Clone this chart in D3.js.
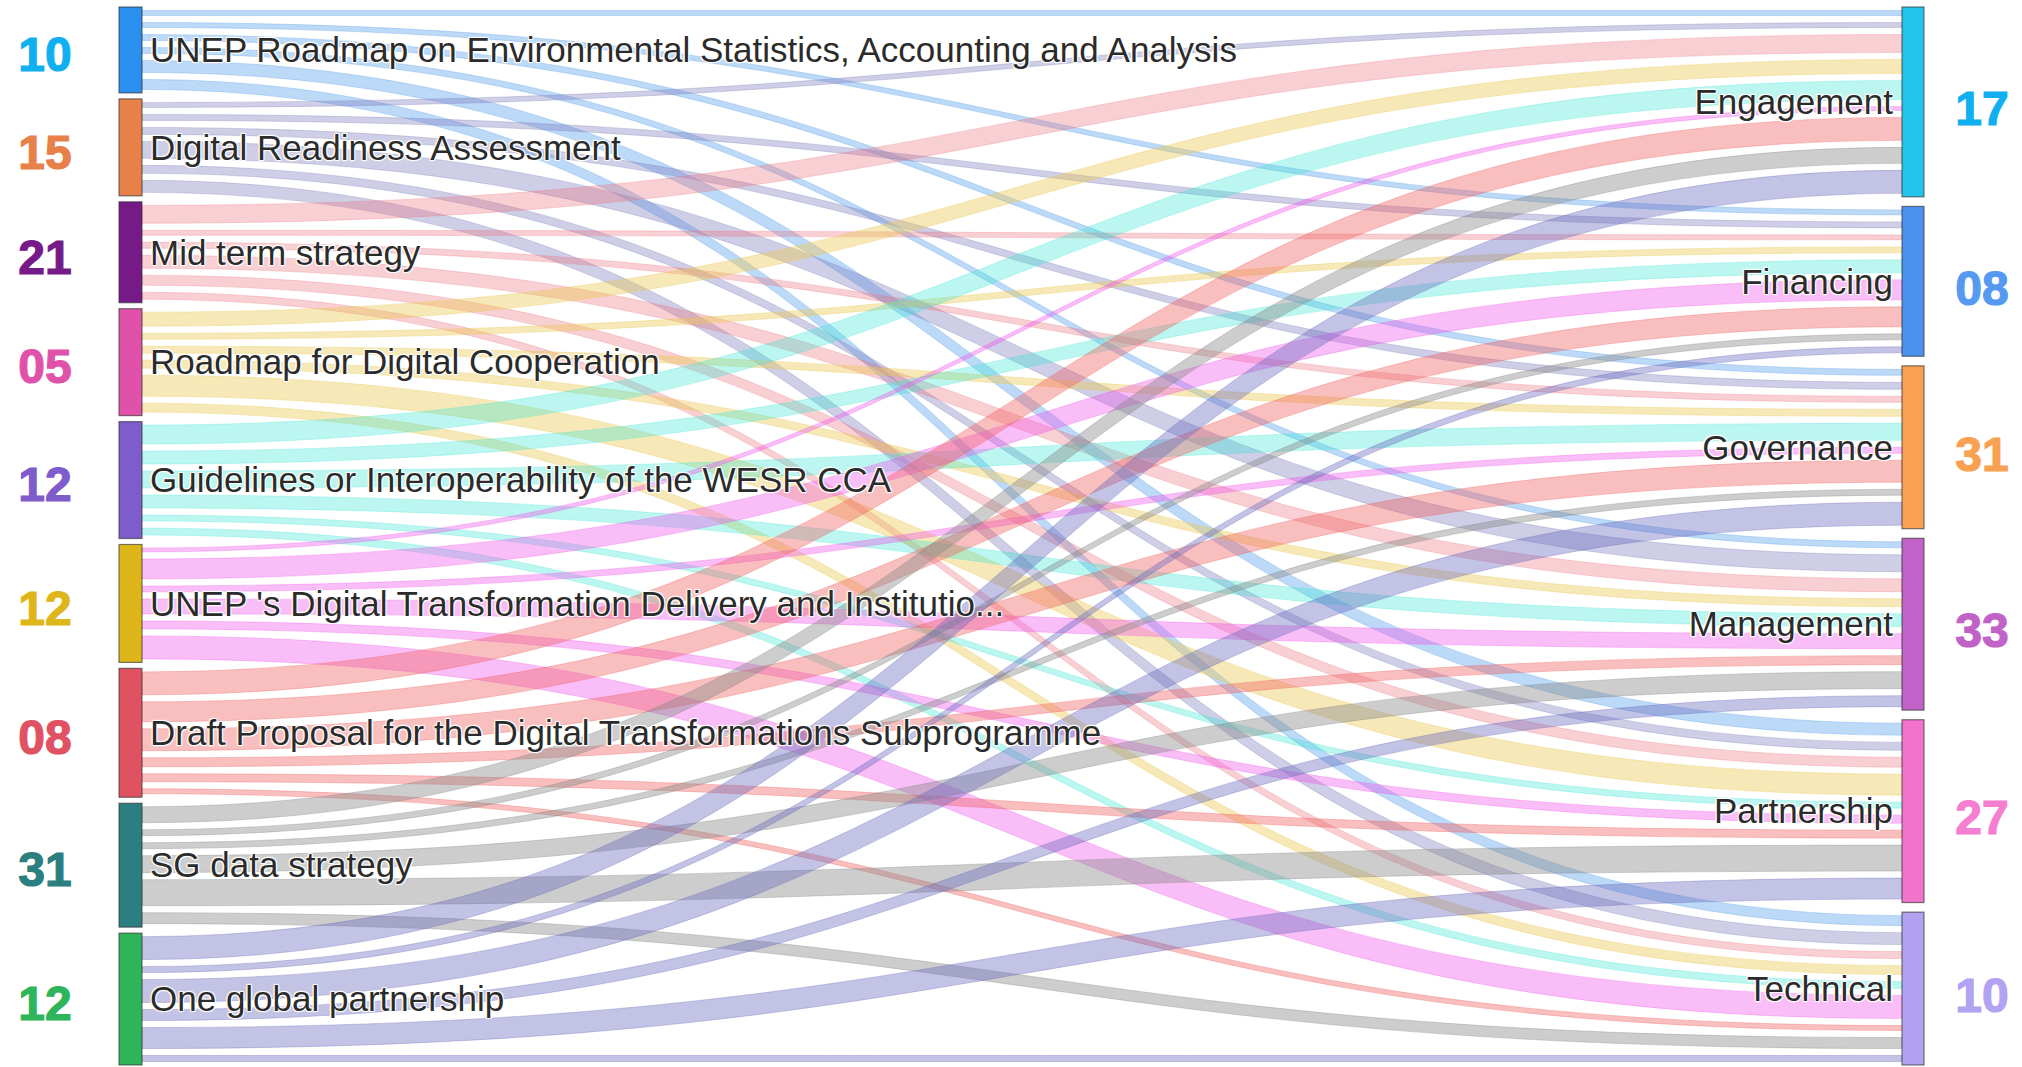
<!DOCTYPE html>
<html>
<head>
<meta charset="utf-8">
<script src="https://cdn.jsdelivr.net/npm/d3@7"></script>
<style>
  html, body { margin: 0; padding: 0; background: #fff; }
  svg text { font-family: "Liberation Sans", Arial, sans-serif; }
  .node-label { fill: #2b2b2b; font-size: 35px;
    text-shadow: 1px 1px 1px #fff, -1px -1px 1px #fff, 1px -1px 1px #fff, -1px 1px 1px #fff; }
  .badge { font-size: 48px; font-weight: bold; stroke-width: 1.2px; }
</style>
</head>
<body>
<div id="chart"></div>
<script>

const sources = [
  "UNEP Roadmap on Environmental Statistics, Accounting and Analysis",
  "Digital Readiness Assessment",
  "Mid term strategy",
  "Roadmap for Digital Cooperation",
  "Guidelines or Interoperability of the WESR CCA",
  "UNEP 's Digital Transformation Delivery and Institutio...",
  "Draft Proposal for the Digital Transformations Subprogramme",
  "SG data strategy",
  "One global partnership"
];
const targets = ["Engagement", "Financing", "Governance", "Management", "Partnership", "Technical"];

// one row per source, one column per target
const flows = [
  [12, 12, 13, 13, 19, 17],
  [12, 13, 14, 24, 15, 19],
  [25, 12, 13, 20, 17, 14],
  [21, 13, 14, 15, 28, 16],
  [26, 20, 24, 20, 13, 14],
  [11, 27, 13, 22, 15, 30],
  [30, 27, 29, 16, 15, 12],
  [23, 13, 13, 24, 33, 18],
  [30, 13, 30, 18, 28, 13]
];

const sourceBadges = ["10", "15", "21", "05", "12", "12", "08", "31", "12"];
const targetBadges = ["17", "08", "31", "33", "27", "10"];

const sourceColors = ["#2b8ff0", "#e8804a", "#761a88", "#e052aa", "#7e5ccc", "#dfb61a", "#e05262", "#2b7f80", "#2eb55a"];
const badgeColorsLeft = ["#10b0f0", "#e8804a", "#761a88", "#e052aa", "#7e5ccc", "#dfb61a", "#e05262", "#2b7f80", "#2eb55a"];
const targetColors = ["#22c4ea", "#4a92f0", "#f8a152", "#c062c8", "#f272cc", "#b2a2f2"];
const badgeColorsRight = ["#10b0f0", "#559af0", "#f8a152", "#c062c8", "#f47fd0", "#b2a2f2"];
const linkColors = [
  "rgba(95,165,235,0.42)",
  "rgba(125,125,190,0.38)",
  "rgba(235,115,125,0.34)",
  "rgba(235,200,85,0.42)",
  "rgba(60,230,210,0.34)",
  "rgba(240,85,235,0.38)",
  "rgba(240,95,95,0.40)",
  "rgba(135,135,135,0.42)",
  "rgba(105,105,190,0.40)"
];

const W = 2022, H = 1067;
const yTop = 7, yBottom = 1065;
const pad = 6;
const leftX = 119, rightX = 1902, nodeW = 23;
const shrink = 3.5;

const total = d3.sum(flows.flat());
const y = d3.scaleLinear()
  .domain([0, total])
  .range([0, yBottom - yTop - pad * (sources.length - 1)]);

const srcVal = flows.map(r => d3.sum(r));
const tgtVal = targets.map((_, j) => d3.sum(flows, r => r[j]));
const gapR = (yBottom - yTop - y(total)) / (targets.length - 1);

const srcNodes = sources.map((name, i) => {
  const y0 = yTop + y(d3.sum(srcVal.slice(0, i))) + pad * i;
  return { name, y0, y1: y0 + y(srcVal[i]) };
});
const tgtNodes = targets.map((name, j) => {
  const y0 = yTop + y(d3.sum(tgtVal.slice(0, j))) + gapR * j;
  return { name, y0, y1: y0 + y(tgtVal[j]) };
});

const links = [];
flows.forEach((row, i) => {
  row.forEach((v, j) => {
    const w = y(v);
    const sy = srcNodes[i].y0 + y(d3.sum(row.slice(0, j)));
    const ty = tgtNodes[j].y0 + y(d3.sum(flows.slice(0, i), r => r[j]));
    links.push({ s: i, t: j, w, sy, ty });
  });
});

function linkPath(d) {
  const x0 = leftX + nodeW, x1 = rightX, xm = (x0 + x1) / 2;
  const a0 = d.sy + shrink, b0 = d.sy + d.w - shrink;
  const a1 = d.ty + shrink, b1 = d.ty + d.w - shrink;
  const p = d3.path();
  p.moveTo(x0, a0);
  p.bezierCurveTo(xm, a0, xm, a1, x1, a1);
  p.lineTo(x1, b1);
  p.bezierCurveTo(xm, b1, xm, b0, x0, b0);
  p.closePath();
  return p.toString();
}

const svg = d3.select('#chart').append('svg')
  .attr('width', W)
  .attr('height', H)
  .attr('viewBox', `0 0 ${W} ${H}`);

svg.append('g')
  .selectAll('path').data(links)
  .enter()
  .append('path')
    .attr('d', linkPath)
    .attr('fill', d => linkColors[d.s])
    .attr('stroke', d => linkColors[d.s])
    .attr('stroke-width', 0.8);

// nodes
svg.append('g')
  .selectAll('rect').data(srcNodes)
  .enter()
  .append('rect')
    .attr('x', leftX)
    .attr('y', d => d.y0)
    .attr('width', nodeW)
    .attr('height', d => d.y1 - d.y0)
    .attr('fill', (d, i) => sourceColors[i])
    .attr('stroke', 'rgba(50,50,50,0.65)')
    .attr('stroke-width', 1.2);

svg.append('g')
  .selectAll('rect').data(tgtNodes)
  .enter()
  .append('rect')
    .attr('x', rightX)
    .attr('y', d => d.y0)
    .attr('width', nodeW - 1)
    .attr('height', d => d.y1 - d.y0)
    .attr('fill', (d, i) => targetColors[i])
    .attr('stroke', 'rgba(50,50,50,0.65)')
    .attr('stroke-width', 1.2);

// labels
svg.append('g')
  .selectAll('text').data(srcNodes)
  .enter()
  .append('text')
    .attr('class', 'node-label')
    .attr('x', leftX + nodeW + 8)
    .attr('y', d => (d.y0 + d.y1) / 2)
    .attr('dy', '0.35em')
    .text(d => d.name);

svg.append('g')
  .selectAll('text').data(tgtNodes)
  .enter()
  .append('text')
    .attr('class', 'node-label')
    .attr('x', rightX - 9)
    .attr('y', d => (d.y0 + d.y1) / 2)
    .attr('dy', '0.35em')
    .attr('text-anchor', 'end')
    .text(d => d.name);

// count badges
svg.append('g')
  .selectAll('text').data(srcNodes)
  .enter()
  .append('text')
    .attr('class', 'badge')
    .attr('x', 45)
    .attr('y', d => (d.y0 + d.y1) / 2 + 4)
    .attr('dy', '0.36em')
    .attr('text-anchor', 'middle')
    .attr('fill', (d, i) => badgeColorsLeft[i])
    .attr('stroke', (d, i) => badgeColorsLeft[i])
    .text((d, i) => sourceBadges[i]);

svg.append('g')
  .selectAll('text').data(tgtNodes)
  .enter()
  .append('text')
    .attr('class', 'badge')
    .attr('x', 1982)
    .attr('y', d => (d.y0 + d.y1) / 2 + 6)
    .attr('dy', '0.36em')
    .attr('text-anchor', 'middle')
    .attr('fill', (d, i) => badgeColorsRight[i])
    .attr('stroke', (d, i) => badgeColorsRight[i])
    .text((d, i) => targetBadges[i]);

</script>
</body>
</html>
